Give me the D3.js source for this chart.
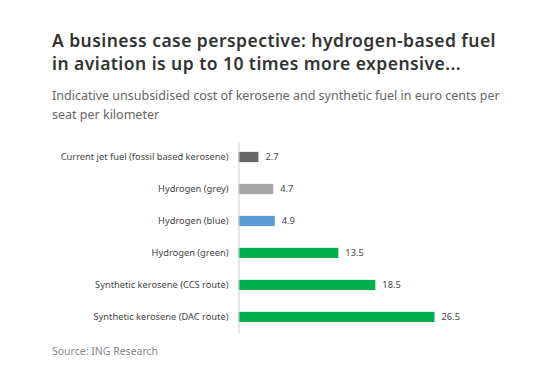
<!DOCTYPE html>
<html>
<head>
    <meta charset="UTF-8">
    <title>Hydrogen-based fuel cost</title>
    <script src="https://d3js.org/d3.v7.min.js"></script>
    <style>
        body { margin: 0; background: #fff; }
    </style>
</head>
<body>
    <div id="chart"></div>
    <script type="text/javascript">
        const categories = [
            "Current jet fuel (fossil based kerosene)",
            "Hydrogen (grey)",
            "Hydrogen (blue)",
            "Hydrogen (green)",
            "Synthetic kerosene (CCS route)",
            "Synthetic kerosene (DAC route)"
        ];
        const values = [2.7, 4.7, 4.9, 13.5, 18.5, 26.5];
        const colors = ["#666666", "#a6a6a6", "#5b9bd5", "#00b050", "#00b050", "#00b050"];

        const titleLines = [
            "A business case perspective: hydrogen-based fuel",
            "in aviation is up to 10 times more expensive..."
        ];
        const subtitleLines = [
            "Indicative unsubsidised cost of kerosene and synthetic fuel in euro cents per",
            "seat per kilometer"
        ];
        const source = "Source: ING Research";

        const width = 560, height = 385;
        const font = "'Noto Sans', sans-serif";

        const svg = d3.select("#chart").append("svg")
            .attr("width", width)
            .attr("height", height)
            .attr("font-family", font)
            .style("display", "block");

        svg.selectAll("text.title").data(titleLines).enter().append("text")
            .attr("class", "title")
            .attr("x", 52)
            .attr("y", (d, i) => 46.5 + i * 23.5)
            .attr("font-size", 17.5)
            .attr("font-weight", 600)
            .attr("letter-spacing", 0.45)
            .attr("fill", "#333")
            .text(d => d);

        svg.selectAll("text.subtitle").data(subtitleLines).enter().append("text")
            .attr("class", "subtitle")
            .attr("x", 52)
            .attr("y", (d, i) => 100 + i * 19)
            .attr("font-size", 12.5)
            .attr("fill", "#666")
            .text(d => d);

        // plot area
        const x = d3.scaleLinear().domain([0, 26.5]).range([238.5, 434.5]);
        const y = d3.scaleBand().domain(categories).range([141, 333]).paddingInner(0.68).paddingOuter(0.34);

        const g = svg.append("g");

        g.selectAll("rect").data(values).enter().append("rect")
            .attr("x", x(0))
            .attr("y", (d, i) => y(categories[i]))
            .attr("width", d => x(d) - x(0))
            .attr("height", y.bandwidth())
            .attr("fill", (d, i) => colors[i]);

        g.selectAll("text.value").data(values).enter().append("text")
            .attr("class", "value")
            .attr("x", d => x(d) + 7)
            .attr("y", (d, i) => y(categories[i]) + y.bandwidth() / 2)
            .attr("dy", "0.35em")
            .attr("font-size", 9.3)
            .attr("fill", "#444")
            .text(d => d.toFixed(1));

        const axis = d3.axisLeft(y).tickSize(0).tickPadding(10);
        const ax = g.append("g")
            .attr("transform", `translate(${x(0)},0)`)
            .call(axis);
        ax.select(".domain").attr("stroke", "#d0d0d0");
        ax.selectAll(".tick text")
            .attr("font-family", font)
            .attr("font-size", 9.3)
            .attr("fill", "#444");

        svg.append("text")
            .attr("x", 52)
            .attr("y", 355)
            .attr("font-size", 10.5)
            .attr("fill", "#888")
            .text(source);
    </script>
</body>
</html>
